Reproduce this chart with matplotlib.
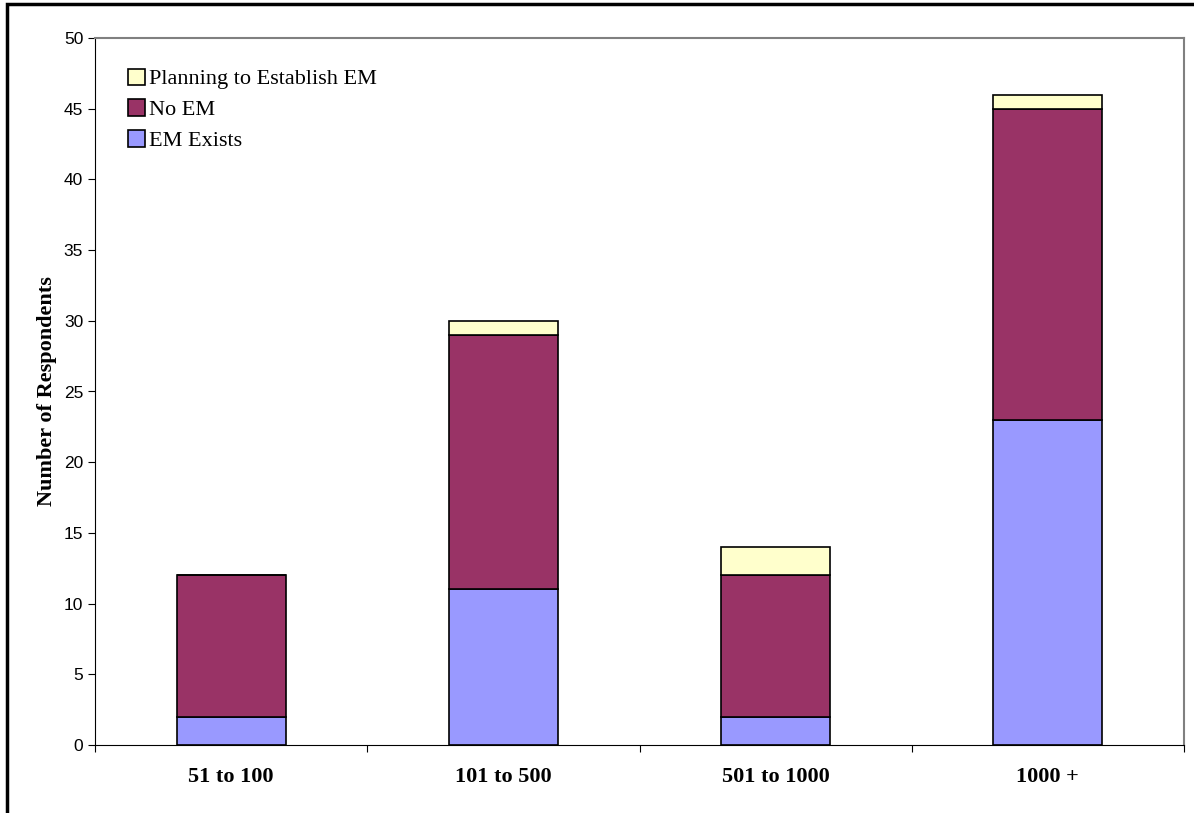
import numpy as np
import matplotlib.pyplot as plt
from matplotlib.patches import Rectangle

groups = ['51 to 100', '101 to 500', '501 to 1000', '1000 +']
em_exists = [2, 11, 2, 23]
no_em = [10, 18, 10, 22]
planning = [0, 1, 2, 1]

fig = plt.figure(figsize=(11.94, 8.13), dpi=100)
ax = fig.add_axes([95/1194, 1-745/813, (1184-95)/1194, (745-38)/813])

x = np.arange(len(groups))
w = 0.4
ax.bar(x, em_exists, w, color='#9999FF', edgecolor='black', linewidth=1.2, label='EM Exists')
ax.bar(x, no_em, w, bottom=em_exists, color='#993366', edgecolor='black', linewidth=1.2, label='No EM')
bot = np.array(em_exists) + np.array(no_em)
ax.bar(x, planning, w, bottom=bot, color='#FFFFCC', edgecolor='black', linewidth=1.2, label='Planning to Establish EM')

ax.set_xlim(-0.5, len(groups) - 0.5)
ax.set_ylim(0, 50)
ax.set_yticks(range(0, 51, 5))
ax.set_xticks(np.arange(-0.5, len(groups), 1))
ax.set_xticklabels([])
ax.set_xticks(x, minor=True)
ax.set_xticklabels(groups, minor=True, family='Liberation Serif', fontweight='bold', fontsize=16)
ax.tick_params(axis='x', which='minor', length=0, pad=16)
ax.tick_params(axis='x', which='major', length=5, direction='out')
ax.tick_params(axis='y', length=5, labelsize=12.5)
for t in ax.get_yticklabels():
    t.set_family('Liberation Sans')
ax.set_ylabel('Number of Respondents', family='Liberation Serif', fontweight='bold', fontsize=16, labelpad=5)

for s in ['top', 'right']:
    ax.spines[s].set_color('#808080')
    ax.spines[s].set_linewidth(1.5)
for s in ['left', 'bottom']:
    ax.spines[s].set_color('black')

h, l = ax.get_legend_handles_labels()
ax.legend(h[::-1], l[::-1], loc='upper left', bbox_to_anchor=(0.012, 0.985), frameon=False,
          prop={'family': 'Liberation Serif', 'size': 16}, handlelength=0.75, handleheight=0.75,
          handletextpad=0.2, labelspacing=0.45)

fig.patches.append(Rectangle((7/1194, -0.1), 1.2, 1 - 4/813 + 0.1, transform=fig.transFigure,
                             fill=False, edgecolor='black', linewidth=2.5))

fig.savefig('out.png', dpi=100)
